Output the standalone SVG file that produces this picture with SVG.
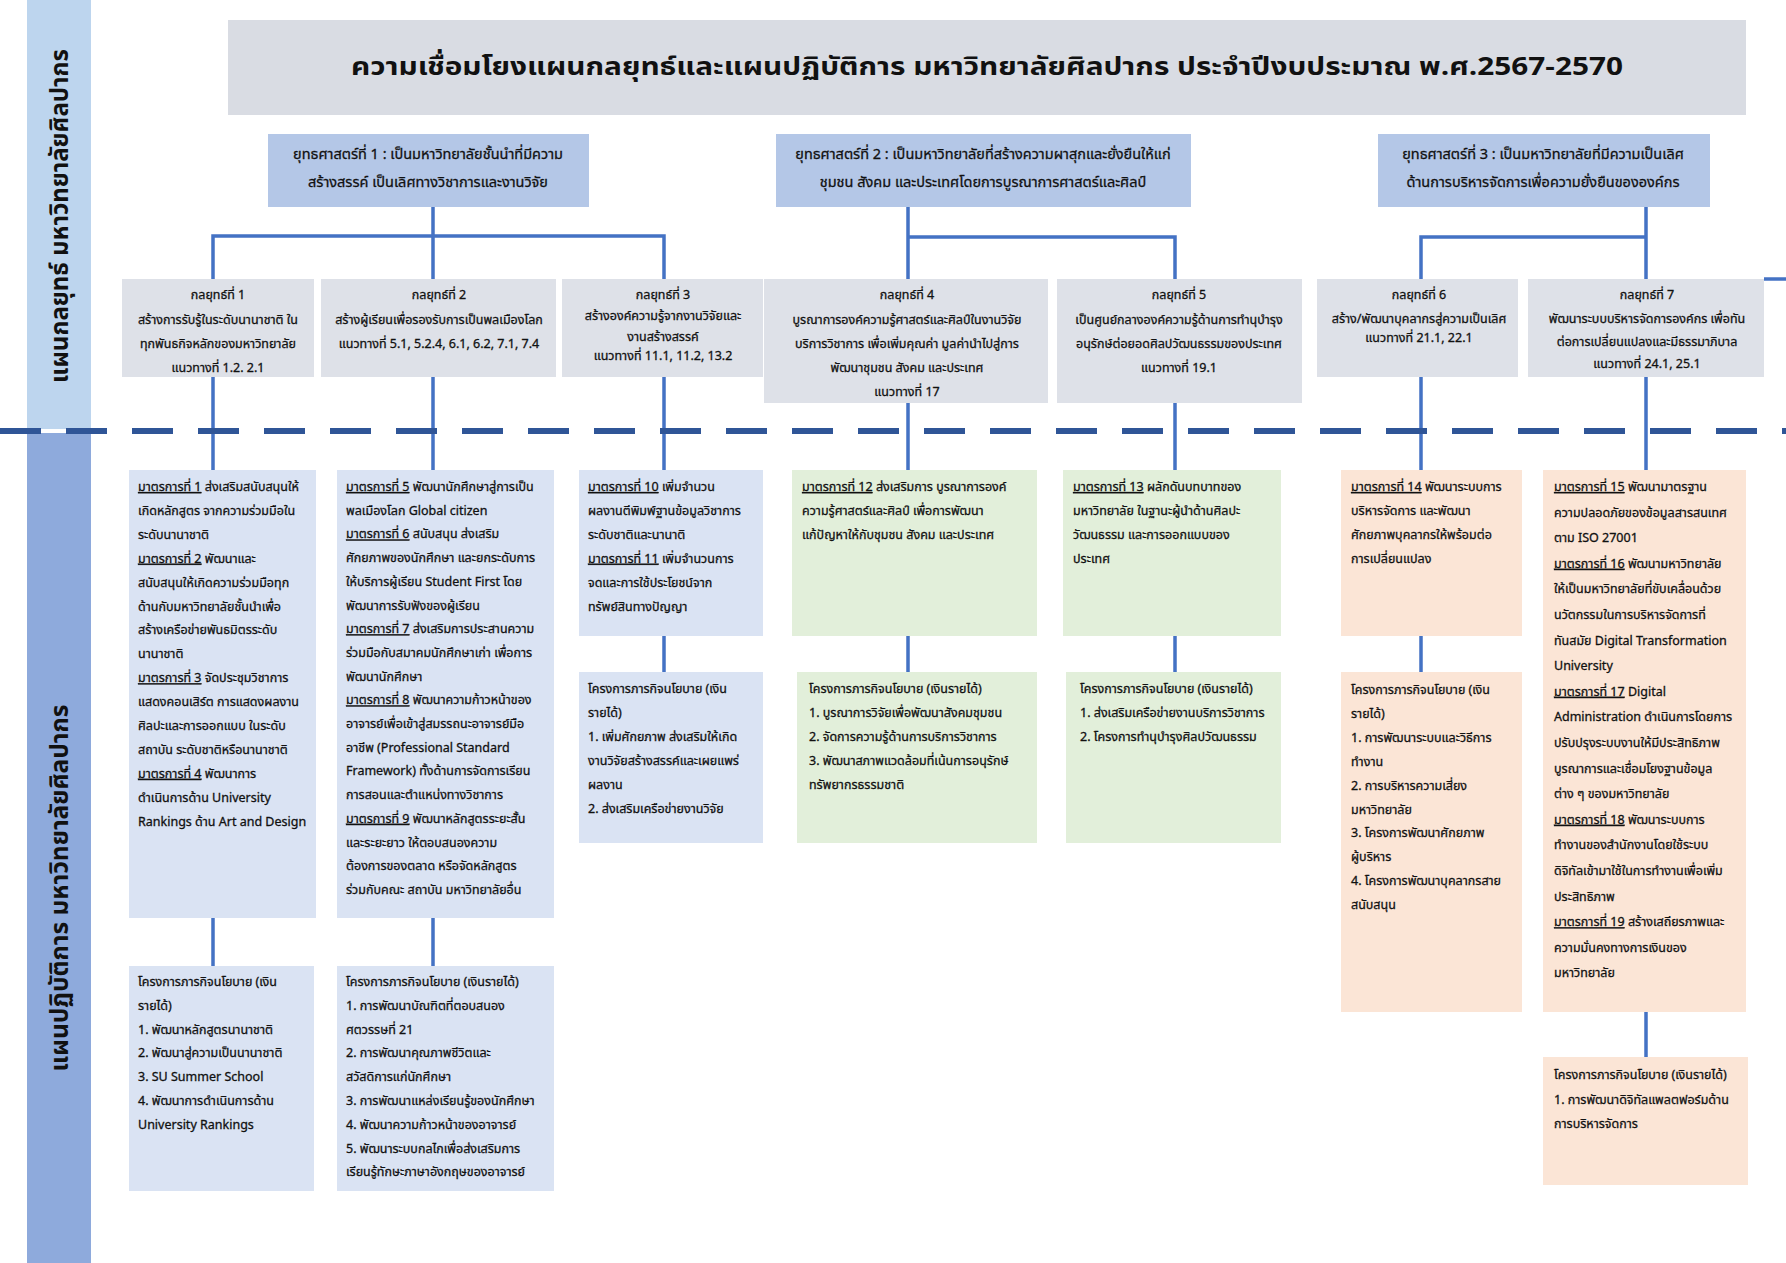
<svg xmlns="http://www.w3.org/2000/svg" width="1786" height="1263" viewBox="0 0 1786 1263">
<style>
.t{font-family:"Noto Sans Thai","Noto Sans",Tahoma,sans-serif;font-size:12.5px;fill:#111;stroke:#111;stroke-width:0.3}
.c{text-anchor:middle}
.b{font-weight:bold;stroke-width:0}
.u{text-decoration:underline}
.blue{fill:#dae3f3}
.green{fill:#e2efda}
.peach{fill:#fbe5d6}
.gray{fill:#dee1e8}
.strat{fill:#b4c7e7}
.conn{stroke:#4472c4;stroke-width:3.5;fill:none}
</style>
<rect width="1786" height="1263" fill="#ffffff"/>
<g id="band-strategy">
<rect x="27" y="0" width="64" height="429" fill="#bdd5ee"/>
<text class="t b c" transform="translate(68,216) rotate(-90)" style="font-size:25px" fill="#111" textLength="334" lengthAdjust="spacingAndGlyphs">แผนกลยุทธ์ มหาวิทยาลัยศิลปากร</text>
</g>
<g id="band-action">
<rect x="27" y="433" width="64" height="830" fill="#8eaadc"/>
<text class="t b c" transform="translate(68,888) rotate(-90)" style="font-size:25px" fill="#111" textLength="367" lengthAdjust="spacingAndGlyphs">แผนปฏิบัติการ มหาวิทยาลัยศิลปากร</text>
</g>
<g id="title">
<rect x="228" y="20" width="1518" height="95" fill="#d9dce3"/>
<text class="t b c" x="987" y="75" style="font-size:25px" textLength="1272" lengthAdjust="spacingAndGlyphs">ความเชื่อมโยงแผนกลยุทธ์และแผนปฏิบัติการ มหาวิทยาลัยศิลปากร ประจำปีงบประมาณ พ.ศ.2567-2570</text>
</g>
<g id="connectors">
<path class="conn" d="M433 207V236M213 279V236H664V279M433 236V279"/>
<path class="conn" d="M908 207V279M908 237H1175V279"/>
<path class="conn" d="M1646 207V279M1421 279V237H1646"/>
<path class="conn" d="M1764 279H1786"/>
<path class="conn" d="M213 377V470M433 377V470M664 377V470M908 403V470M1175 403V470M1421 377V470M1646 377V470"/>
<path class="conn" d="M213 918V966M433 918V966M664 636V672M908 636V672M1175 636V672M1421 636V672M1646 1012V1057"/>
</g>
<line x1="0" y1="431" x2="1786" y2="431" stroke="#2f5597" stroke-width="6" stroke-dasharray="41 25"/>
<g id="strategy-1">
<rect class="strat" x="268" y="134" width="321" height="73"/>
<text class="t c" x="428" y="159" style="font-size:14.5px"><tspan x="428">ยุทธศาสตร์ที่ 1 : เป็นมหาวิทยาลัยชั้นนำที่มีความ</tspan><tspan x="428" dy="28">สร้างสรรค์ เป็นเลิศทางวิชาการและงานวิจัย</tspan></text>
</g>
<g id="strategy-2">
<rect class="strat" x="776" y="134" width="415" height="73"/>
<text class="t c" x="983" y="159" style="font-size:14.5px"><tspan x="983">ยุทธศาสตร์ที่ 2 :  เป็นมหาวิทยาลัยที่สร้างความผาสุกและยั่งยืนให้แก่</tspan><tspan x="983" dy="28">ชุมชน สังคม และประเทศโดยการบูรณาการศาสตร์และศิลป์</tspan></text>
</g>
<g id="strategy-3">
<rect class="strat" x="1378" y="134" width="332" height="73"/>
<text class="t c" x="1543" y="159" style="font-size:14.5px"><tspan x="1543">ยุทธศาสตร์ที่ 3 :  เป็นมหาวิทยาลัยที่มีความเป็นเลิศ</tspan><tspan x="1543" dy="28">ด้านการบริหารจัดการเพื่อความยั่งยืนขององค์กร</tspan></text>
</g>
<g id="k1">
<rect class="gray" x="122" y="279" width="192" height="98"/>
<text class="t c" y="299"><tspan x="218">กลยุทธ์ที่ 1</tspan><tspan x="218" dy="24.5">สร้างการรับรู้ในระดับนานาชาติ ใน</tspan><tspan x="218" dy="24.5">ทุกพันธกิจหลักของมหาวิทยาลัย</tspan><tspan x="218" dy="24">แนวทางที่ 1.2. 2.1</tspan></text>
</g>
<g id="k2">
<rect class="gray" x="321" y="279" width="235" height="98"/>
<text class="t c" y="299"><tspan x="439">กลยุทธ์ที่ 2</tspan><tspan x="439" dy="24.5">สร้างผู้เรียนเพื่อรองรับการเป็นพลเมืองโลก</tspan><tspan x="439" dy="24.5">แนวทางที่ 5.1, 5.2.4, 6.1, 6.2, 7.1, 7.4</tspan></text>
</g>
<g id="k3">
<rect class="gray" x="562" y="279" width="201" height="98"/>
<text class="t c" y="299"><tspan x="663">กลยุทธ์ที่ 3</tspan><tspan x="663" dy="21">สร้างองค์ความรู้จากงานวิจัยและ</tspan><tspan x="663" dy="21">งานสร้างสรรค์</tspan><tspan x="663" dy="18.5">แนวทางที่ 11.1, 11.2, 13.2</tspan></text>
</g>
<g id="k4">
<rect class="gray" x="764" y="279" width="284" height="124"/>
<text class="t c" y="299"><tspan x="907">กลยุทธ์ที่ 4</tspan><tspan x="907" dy="24.5">บูรณาการองค์ความรู้ศาสตร์และศิลป์ในงานวิจัย</tspan><tspan x="907" dy="24.5">บริการวิชาการ เพื่อเพิ่มคุณค่า มูลค่านำไปสู่การ</tspan><tspan x="907" dy="24">พัฒนาชุมชน สังคม และประเทศ</tspan><tspan x="907" dy="23.5">แนวทางที่ 17</tspan></text>
</g>
<g id="k5">
<rect class="gray" x="1057" y="279" width="245" height="124"/>
<text class="t c" y="299"><tspan x="1179">กลยุทธ์ที่  5</tspan><tspan x="1179" dy="24.5">เป็นศูนย์กลางองค์ความรู้ด้านการทำนุบำรุง</tspan><tspan x="1179" dy="24.5">อนุรักษ์ต่อยอดศิลปวัฒนธรรมของประเทศ</tspan><tspan x="1179" dy="23.5">แนวทางที่ 19.1</tspan></text>
</g>
<g id="k6">
<rect class="gray" x="1317" y="279" width="201" height="98"/>
<text class="t c" y="299"><tspan x="1419">กลยุทธ์ที่  6</tspan><tspan x="1419" dy="24">สร้าง/พัฒนาบุคลากรสู่ความเป็นเลิศ</tspan><tspan x="1419" dy="18.5">แนวทางที่ 21.1, 22.1</tspan></text>
</g>
<g id="k7">
<rect class="gray" x="1528" y="279" width="236" height="98"/>
<text class="t c" y="299"><tspan x="1647">กลยุทธ์ที่ 7</tspan><tspan x="1647" dy="24">พัฒนาระบบบริหารจัดการองค์กร เพื่อทัน</tspan><tspan x="1647" dy="23">ต่อการเปลี่ยนแปลงและมีธรรมาภิบาล</tspan><tspan x="1647" dy="21.5">แนวทางที่ 24.1, 25.1</tspan></text>
</g>
<g id="m1">
<rect class="blue" x="129" y="470" width="187" height="448"/>
<text class="t" y="491"><tspan x="138"><tspan class="u">มาตรการที่ 1</tspan> ส่งเสริมสนับสนุนให้</tspan><tspan x="138" dy="23.9">เกิดหลักสูตร จากความร่วมมือใน</tspan><tspan x="138" dy="23.9">ระดับนานาชาติ</tspan><tspan x="138" dy="23.9"><tspan class="u">มาตรการที่ 2</tspan> พัฒนาและ</tspan><tspan x="138" dy="23.9">สนับสนุนให้เกิดความร่วมมือทุก</tspan><tspan x="138" dy="23.9">ด้านกับมหาวิทยาลัยชั้นนำเพื่อ</tspan><tspan x="138" dy="23.9">สร้างเครือข่ายพันธมิตรระดับ</tspan><tspan x="138" dy="23.9">นานาชาติ</tspan><tspan x="138" dy="23.9"><tspan class="u">มาตรการที่ 3</tspan> จัดประชุมวิชาการ</tspan><tspan x="138" dy="23.9">แสดงคอนเสิร์ต การแสดงผลงาน</tspan><tspan x="138" dy="23.9">ศิลปะและการออกแบบ ในระดับ</tspan><tspan x="138" dy="23.9">สถาบัน ระดับชาติหรือนานาชาติ</tspan><tspan x="138" dy="23.9"><tspan class="u">มาตรการที่ 4</tspan> พัฒนาการ</tspan><tspan x="138" dy="23.9">ดำเนินการด้าน University</tspan><tspan x="138" dy="23.9">Rankings ด้าน Art and Design</tspan></text>
</g>
<g id="m2">
<rect class="blue" x="337" y="470" width="217" height="448"/>
<text class="t" y="491"><tspan x="346"><tspan class="u">มาตรการที่ 5</tspan> พัฒนานักศึกษาสู่การเป็น</tspan><tspan x="346" dy="23.7">พลเมืองโลก Global citizen</tspan><tspan x="346" dy="23.7"><tspan class="u">มาตรการที่ 6</tspan> สนับสนุน ส่งเสริม</tspan><tspan x="346" dy="23.7">ศักยภาพของนักศึกษา และยกระดับการ</tspan><tspan x="346" dy="23.7">ให้บริการผู้เรียน Student First โดย</tspan><tspan x="346" dy="23.7">พัฒนาการรับฟังของผู้เรียน</tspan><tspan x="346" dy="23.7"><tspan class="u">มาตรการที่ 7</tspan> ส่งเสริมการประสานความ</tspan><tspan x="346" dy="23.7">ร่วมมือกับสมาคมนักศึกษาเก่า เพื่อการ</tspan><tspan x="346" dy="23.7">พัฒนานักศึกษา</tspan><tspan x="346" dy="23.7"><tspan class="u">มาตรการที่ 8</tspan> พัฒนาความก้าวหน้าของ</tspan><tspan x="346" dy="23.7">อาจารย์เพื่อเข้าสู่สมรรถนะอาจารย์มือ</tspan><tspan x="346" dy="23.7">อาชีพ (Professional Standard</tspan><tspan x="346" dy="23.7">Framework) ทั้งด้านการจัดการเรียน</tspan><tspan x="346" dy="23.7">การสอนและตำแหน่งทางวิชาการ</tspan><tspan x="346" dy="23.7"><tspan class="u">มาตรการที่ 9</tspan> พัฒนาหลักสูตรระยะสั้น</tspan><tspan x="346" dy="23.7">และระยะยาว ให้ตอบสนองความ</tspan><tspan x="346" dy="23.7">ต้องการของตลาด หรือจัดหลักสูตร</tspan><tspan x="346" dy="23.7">ร่วมกับคณะ สถาบัน มหาวิทยาลัยอื่น</tspan></text>
</g>
<g id="m3">
<rect class="blue" x="579" y="470" width="184" height="166"/>
<text class="t" y="491"><tspan x="588"><tspan class="u">มาตรการที่ 10</tspan> เพิ่มจำนวน</tspan><tspan x="588" dy="23.9">ผลงานตีพิมพ์ฐานข้อมูลวิชาการ</tspan><tspan x="588" dy="23.9">ระดับชาติและนานาติ</tspan><tspan x="588" dy="23.9"><tspan class="u">มาตรการที่ 11</tspan> เพิ่มจำนวนการ</tspan><tspan x="588" dy="23.9">จดและการใช้ประโยชน์จาก</tspan><tspan x="588" dy="23.9">ทรัพย์สินทางปัญญา</tspan></text>
</g>
<g id="m4">
<rect class="green" x="792" y="470" width="245" height="166"/>
<text class="t" y="491"><tspan x="802"><tspan class="u">มาตรการที่ 12</tspan> ส่งเสริมการ บูรณาการองค์</tspan><tspan x="802" dy="23.9">ความรู้ศาสตร์และศิลป์ เพื่อการพัฒนา</tspan><tspan x="802" dy="23.9">แก้ปัญหาให้กับชุมชน สังคม และประเทศ</tspan></text>
</g>
<g id="m5">
<rect class="green" x="1063" y="470" width="218" height="166"/>
<text class="t" y="491"><tspan x="1073"><tspan class="u">มาตรการที่ 13</tspan>  ผลักดันบทบาทของ</tspan><tspan x="1073" dy="23.9">มหาวิทยาลัย ในฐานะผู้นำด้านศิลปะ</tspan><tspan x="1073" dy="23.9">วัฒนธรรม และการออกแบบของ</tspan><tspan x="1073" dy="23.9">ประเทศ</tspan></text>
</g>
<g id="m6">
<rect class="peach" x="1341" y="470" width="181" height="166"/>
<text class="t" y="491"><tspan x="1351"><tspan class="u">มาตรการที่ 14</tspan> พัฒนาระบบการ</tspan><tspan x="1351" dy="23.9">บริหารจัดการ และพัฒนา</tspan><tspan x="1351" dy="23.9">ศักยภาพบุคลากรให้พร้อมต่อ</tspan><tspan x="1351" dy="23.9">การเปลี่ยนแปลง</tspan></text>
</g>
<g id="m7">
<rect class="peach" x="1543" y="470" width="203" height="542"/>
<text class="t" y="491"><tspan x="1554"><tspan class="u">มาตรการที่ 15</tspan> พัฒนามาตรฐาน</tspan><tspan x="1554" dy="25.6">ความปลอดภัยของข้อมูลสารสนเทศ</tspan><tspan x="1554" dy="25.6">ตาม ISO 27001</tspan><tspan x="1554" dy="25.6"><tspan class="u">มาตรการที่ 16</tspan> พัฒนามหาวิทยาลัย</tspan><tspan x="1554" dy="25.6">ให้เป็นมหาวิทยาลัยที่ขับเคลื่อนด้วย</tspan><tspan x="1554" dy="25.6">นวัตกรรมในการบริหารจัดการที่</tspan><tspan x="1554" dy="25.6">ทันสมัย Digital Transformation</tspan><tspan x="1554" dy="25.6">University</tspan><tspan x="1554" dy="25.6"><tspan class="u">มาตรการที่ 17</tspan> Digital</tspan><tspan x="1554" dy="25.6">Administration ดำเนินการโดยการ</tspan><tspan x="1554" dy="25.6">ปรับปรุงระบบงานให้มีประสิทธิภาพ</tspan><tspan x="1554" dy="25.6">บูรณาการและเชื่อมโยงฐานข้อมูล</tspan><tspan x="1554" dy="25.6">ต่าง ๆ ของมหาวิทยาลัย</tspan><tspan x="1554" dy="25.6"><tspan class="u">มาตรการที่ 18</tspan> พัฒนาระบบการ</tspan><tspan x="1554" dy="25.6">ทำงานของสำนักงานโดยใช้ระบบ</tspan><tspan x="1554" dy="25.6">ดิจิทัลเข้ามาใช้ในการทำงานเพื่อเพิ่ม</tspan><tspan x="1554" dy="25.6">ประสิทธิภาพ</tspan><tspan x="1554" dy="25.6"><tspan class="u">มาตรการที่ 19</tspan>  สร้างเสถียรภาพและ</tspan><tspan x="1554" dy="25.6">ความมั่นคงทางการเงินของ</tspan><tspan x="1554" dy="25.6">มหาวิทยาลัย</tspan></text>
</g>
<g id="p1">
<rect class="blue" x="129" y="966" width="185" height="225"/>
<text class="t" y="986"><tspan x="138">โครงการภารกิจนโยบาย (เงิน</tspan><tspan x="138" dy="23.8">รายได้)</tspan><tspan x="138" dy="23.8">1. พัฒนาหลักสูตรนานาชาติ</tspan><tspan x="138" dy="23.8">2. พัฒนาสู่ความเป็นนานาชาติ</tspan><tspan x="138" dy="23.8">3. SU Summer School</tspan><tspan x="138" dy="23.8">4. พัฒนาการดำเนินการด้าน</tspan><tspan x="138" dy="23.8">University Rankings</tspan></text>
</g>
<g id="p2">
<rect class="blue" x="337" y="966" width="217" height="225"/>
<text class="t" y="986"><tspan x="346">โครงการภารกิจนโยบาย (เงินรายได้)</tspan><tspan x="346" dy="23.8">1. การพัฒนาบัณฑิตที่ตอบสนอง</tspan><tspan x="346" dy="23.8">ศตวรรษที่ 21</tspan><tspan x="346" dy="23.8">2. การพัฒนาคุณภาพชีวิตและ</tspan><tspan x="346" dy="23.8">สวัสดิการแก่นักศึกษา</tspan><tspan x="346" dy="23.8">3. การพัฒนาแหล่งเรียนรู้ของนักศึกษา</tspan><tspan x="346" dy="23.8">4. พัฒนาความก้าวหน้าของอาจารย์</tspan><tspan x="346" dy="23.8">5. พัฒนาระบบกลไกเพื่อส่งเสริมการ</tspan><tspan x="346" dy="23.8">เรียนรู้ทักษะภาษาอังกฤษของอาจารย์</tspan></text>
</g>
<g id="p3">
<rect class="blue" x="579" y="672" width="184" height="171"/>
<text class="t" y="693"><tspan x="588">โครงการภารกิจนโยบาย (เงิน</tspan><tspan x="588" dy="23.9">รายได้)</tspan><tspan x="588" dy="23.9">1. เพิ่มศักยภาพ ส่งเสริมให้เกิด</tspan><tspan x="588" dy="23.9">งานวิจัยสร้างสรรค์และเผยแพร่</tspan><tspan x="588" dy="23.9">ผลงาน</tspan><tspan x="588" dy="23.9">2. ส่งเสริมเครือข่ายงานวิจัย</tspan></text>
</g>
<g id="p4">
<rect class="green" x="797" y="672" width="240" height="171"/>
<text class="t" y="693"><tspan x="809">โครงการภารกิจนโยบาย (เงินรายได้)</tspan><tspan x="809" dy="23.9">1. บูรณาการวิจัยเพื่อพัฒนาสังคมชุมชน</tspan><tspan x="809" dy="23.9">2. จัดการความรู้ด้านการบริการวิชาการ</tspan><tspan x="809" dy="23.9">3. พัฒนาสภาพแวดล้อมที่เน้นการอนุรักษ์</tspan><tspan x="809" dy="23.9">ทรัพยากรธรรมชาติ</tspan></text>
</g>
<g id="p5">
<rect class="green" x="1066" y="672" width="215" height="171"/>
<text class="t" y="693"><tspan x="1080">โครงการภารกิจนโยบาย (เงินรายได้)</tspan><tspan x="1080" dy="23.9">1. ส่งเสริมเครือข่ายงานบริการวิชาการ</tspan><tspan x="1080" dy="23.9">2. โครงการทำนุบำรุงศิลปวัฒนธรรม</tspan></text>
</g>
<g id="p6">
<rect class="peach" x="1341" y="672" width="181" height="340"/>
<text class="t" y="694"><tspan x="1351">โครงการภารกิจนโยบาย (เงิน</tspan><tspan x="1351" dy="23.9">รายได้)</tspan><tspan x="1351" dy="23.9">1. การพัฒนาระบบและวิธีการ</tspan><tspan x="1351" dy="23.9">ทำงาน</tspan><tspan x="1351" dy="23.9">2. การบริหารความเสี่ยง</tspan><tspan x="1351" dy="23.9">มหาวิทยาลัย</tspan><tspan x="1351" dy="23.9">3. โครงการพัฒนาศักยภาพ</tspan><tspan x="1351" dy="23.9">ผู้บริหาร</tspan><tspan x="1351" dy="23.9">4. โครงการพัฒนาบุคลากรสาย</tspan><tspan x="1351" dy="23.9">สนับสนุน</tspan></text>
</g>
<g id="p7">
<rect class="peach" x="1543" y="1057" width="205" height="128"/>
<text class="t" y="1079"><tspan x="1554">โครงการภารกิจนโยบาย (เงินรายได้)</tspan><tspan x="1554" dy="24.6">1. การพัฒนาดิจิทัลแพลตฟอร์มด้าน</tspan><tspan x="1554" dy="24.6">การบริหารจัดการ</tspan></text>
</g>
</svg>
